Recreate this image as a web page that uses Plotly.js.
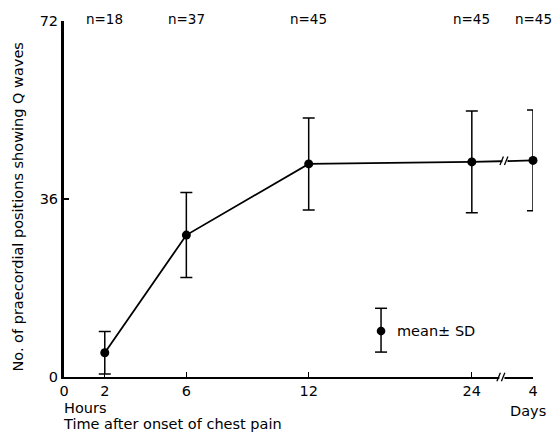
<!DOCTYPE html>
<html>
<head>
<meta charset="utf-8">
<script src="https://cdn.plot.ly/plotly-3.0.1.min.js"></script>
<style>html,body{margin:0;padding:0;background:#fff;}#chart{width:558px;height:432px;}</style>
</head>
<body>
<div id="chart"></div>
<script>
// Data
const timeLabels = ['2', '6', '12', '24', '4'];      // hours, hours, hours, hours, days
const nValues = [18, 37, 45, 45, 45];
const meanQ = [4.9, 28.7, 43.1, 43.5, 43.8];
const sdQ = [4.3, 8.6, 9.3, 10.3, 10.2];
// Broken time axis of the original: positions of each time point on the drawn axis
const axisPos = [2, 6, 12, 20, 23];
const axisTickVals = [0, 2, 6, 12, 20, 23];
const axisTickText = ['0', '2', '6', '12', '24', '4'];
const yTicks = [0, 36, 72];

const FONT = 'DejaVu Sans, sans-serif';

const trace = {
  x: axisPos,
  y: meanQ,
  type: 'scatter',
  mode: 'lines+markers',
  line: {color: '#000', width: 1.8},
  marker: {color: '#000', size: 9},
  error_y: {type: 'data', array: sdQ, visible: true, color: '#000', thickness: 1.5, width: 6},
  cliponaxis: false,
  hoverinfo: 'skip'
};

const annotations = nValues.map((n, i) => ({
  x: axisPos[i], y: 72, xref: 'x', yref: 'y',
  text: 'n=' + n, showarrow: false, yanchor: 'middle', yshift: 2,
  font: {family: FONT, size: 13.5, color: '#000'}
}));

annotations.push(
  {x: -0.098, y: 0.476, xref: 'paper', yref: 'paper', text: 'No. of praecordial positions showing Q waves',
   textangle: -90, showarrow: false, xanchor: 'center', yanchor: 'middle',
   font: {family: FONT, size: 14.5, color: '#000'}},
  {x: 0, y: 0, xref: 'paper', yref: 'paper', text: 'Hours', showarrow: false,
   xanchor: 'left', yanchor: 'middle', yshift: -31, xshift: -2,
   font: {family: FONT, size: 14.5, color: '#000'}},
  {x: 0, y: 0, xref: 'paper', yref: 'paper', text: 'Time after onset of chest pain', showarrow: false,
   xanchor: 'left', yanchor: 'middle', yshift: -47, xshift: -3,
   font: {family: FONT, size: 14.5, color: '#000'}},
  {x: 23, y: 0, xref: 'x', yref: 'paper', text: 'Days', showarrow: false,
   xanchor: 'center', yanchor: 'middle', yshift: -34, xshift: -5,
   font: {family: FONT, size: 14.5, color: '#000'}},
  {x: 0.705, y: 0.129, xref: 'paper', yref: 'paper', text: 'mean\u00b1 SD', showarrow: false,
   xanchor: 'left', yanchor: 'middle',
   font: {family: FONT, size: 14.5, color: '#000'}}
);

// legend key (mean ± SD symbol) in paper units
const kx = 0.676, ky = 0.129, kTop = 0.193, kBot = 0.070, kw = 0.0128;
const shapes = [
  {type: 'line', xref: 'paper', yref: 'paper', x0: kx, x1: kx, y0: kBot, y1: kTop, line: {color: '#000', width: 1.5}},
  {type: 'line', xref: 'paper', yref: 'paper', x0: kx - kw, x1: kx + kw, y0: kTop, y1: kTop, line: {color: '#000', width: 1.5}},
  {type: 'line', xref: 'paper', yref: 'paper', x0: kx - kw, x1: kx + kw, y0: kBot, y1: kBot, line: {color: '#000', width: 1.5}},
  {type: 'circle', xref: 'paper', yref: 'paper', x0: kx - 0.0092, x1: kx + 0.0092, y0: ky - 0.0121, y1: ky + 0.0121,
   fillcolor: '#000', line: {color: '#000', width: 0}},
  // break on x-axis
  {type: 'rect', xref: 'x', yref: 'paper', x0: 21.35, x1: 21.6, y0: -0.012, y1: 0.012, fillcolor: '#fff', line: {width: 0}, layer: 'above'},
  {type: 'line', xref: 'x', yref: 'paper', x0: 21.23, x1: 21.4, y0: -0.012, y1: 0.012, line: {color: '#000', width: 1.3}},
  {type: 'line', xref: 'x', yref: 'paper', x0: 21.45, x1: 21.62, y0: -0.012, y1: 0.012, line: {color: '#000', width: 1.3}},
  // break on data line
  {type: 'rect', xref: 'x', yref: 'y', x0: 21.5, x1: 21.75, y0: 42.6, y1: 45.0, fillcolor: '#fff', line: {width: 0}, layer: 'above'},
  {type: 'line', xref: 'x', yref: 'y', x0: 21.38, x1: 21.55, y0: 42.9, y1: 44.6, line: {color: '#000', width: 1.3}},
  {type: 'line', xref: 'x', yref: 'y', x0: 21.6, x1: 21.77, y0: 42.9, y1: 44.6, line: {color: '#000', width: 1.3}}
];

const layout = {
  width: 558, height: 432,
  margin: {l: 64, r: 25, t: 21, b: 55, pad: 0},
  paper_bgcolor: '#fff', plot_bgcolor: '#fff',
  showlegend: false,
  font: {family: FONT, size: 13, color: '#000'},
  xaxis: {
    range: [0, 23], showgrid: false, zeroline: false,
    showline: true, linecolor: '#000', linewidth: 2,
    ticks: 'inside', ticklen: 5, tickwidth: 1.3, tickcolor: '#000',
    tickvals: axisTickVals, ticktext: axisTickText,
    tickfont: {family: FONT, size: 14.5, color: '#000'}
  },
  yaxis: {
    range: [0, 72], showgrid: false, zeroline: false,
    showline: true, linecolor: '#000', linewidth: 3,
    ticks: 'inside', ticklen: 5, tickwidth: 1.3, tickcolor: '#000',
    tickvals: yTicks, ticktext: yTicks.map(String),
    tickfont: {family: FONT, size: 14.5, color: '#000'}
  },
  annotations: annotations,
  shapes: shapes
};

Plotly.newPlot('chart', [trace], layout, {staticPlot: true, displayModeBar: false});
</script>
</body>
</html>
